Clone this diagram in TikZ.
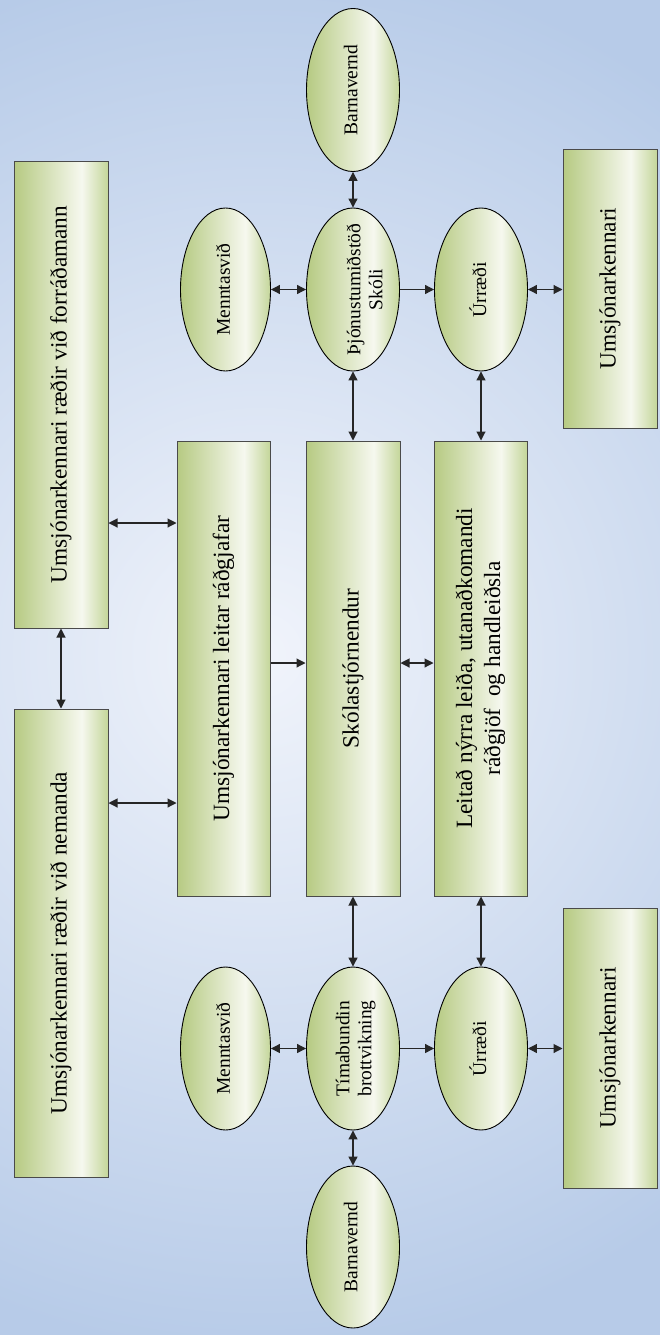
\documentclass[tikz,border=0pt]{standalone}
\usepackage{fontspec}
\setmainfont{Liberation Serif}
\usetikzlibrary{arrows.meta,shapes.geometric,calc}
\definecolor{bgblue}{HTML}{B7CBE8}
\definecolor{bgmid}{HTML}{F1F4FB}
\definecolor{gdark}{HTML}{B6CA82}
\definecolor{gright}{HTML}{C4D69A}
\definecolor{glight}{HTML}{F6F8EF}
\definecolor{edgegray}{HTML}{4A4A4A}
\pgfdeclarehorizontalshading{greenbar}{100bp}{color(0bp)=(gdark); color(25bp)=(gdark); color(61bp)=(glight); color(75bp)=(gright); color(100bp)=(gright)}
\newcommand\vt[1]{\rotatebox{90}{\begin{tabular}{@{}c@{}}#1\end{tabular}}}
\begin{document}
\begin{tikzpicture}[x=1pt,y=-1pt,
  box/.style={rectangle, draw=edgegray, line width=1pt, shade, shading=greenbar, inner sep=0pt, font=\fontsize{23.3}{28}\selectfont},
  ell/.style={ellipse, draw=black, line width=0.9pt, shade, shading=greenbar, inner sep=0pt, minimum width=93pt, minimum height=163pt},
  etxt/.style={inner sep=0pt, font=\fontsize{19.5}{22}\selectfont},
  con/.style={line width=1.1pt, draw=black!85},
  dbl/.style={con, {Triangle[length=9pt,width=9pt]}-{Triangle[length=9pt,width=9pt]}},
  one/.style={con, -{Triangle[length=9pt,width=9pt]}}
]
\useasboundingbox (0,0) rectangle (660,1335);
% background
\fill[bgblue] (0,0) rectangle (660,1335);
\begin{scope}
\clip (0,0) rectangle (660,1335);
\shade[inner color=bgmid, outer color=bgblue] (260,655) circle[radius=700pt];
\end{scope}

% boxes
\node[box, minimum width=94pt, minimum height=467pt] (fo) at (61,394.5) {\vt{Umsjónarkennari ræðir við forráðamann}};
\node[box, minimum width=94pt, minimum height=468pt] (ne) at (61,943) {\vt{Umsjónarkennari ræðir við nemanda}};
\node[box, minimum width=93pt, minimum height=455pt] (le) at (223.5,668.5) {\vt{Umsjónarkennari leitar ráðgjafar}};
\node[box, minimum width=94pt, minimum height=455pt] (sk) at (353,668.5) {\vt{Skólastjórnendur}};
\node[box, minimum width=93pt, minimum height=455pt] (lt) at (480.5,668.5) {\vt{Leitað nýrra leiða, utanaðkomandi\\ráðgjöf~ og handleiðsla}};
\node[box, minimum width=94pt, minimum height=279pt] (u1) at (610,288.5) {\vt{Umsjónarkennari}};
\node[box, minimum width=94pt, minimum height=280pt] (u2) at (610,1048) {\vt{Umsjónarkennari}};

% top ellipses
\node[ell] (b1) at (353,90) {};
\node[etxt] (b1t) at (b1) {\vt{Barnavernd}};
\node[ell, minimum width=90pt] (m1) at (225.5,289.5) {};
\node[etxt] (m1t) at (m1) {\vt{Menntasvið}};
\node[ell] (th) at (353,289.5) {};
\node[etxt] (tht) at ([xshift=14pt]th.center) {\vt{Þjónustumiðstöð\\Skóli}};
\node[ell] (ur1) at (481,289.5) {};
\node[etxt] (ur1t) at (ur1) {\vt{Úrræði}};

% bottom ellipses
\node[ell, minimum width=90pt] (m2) at (225.5,1048.5) {};
\node[etxt] (m2t) at (m2) {\vt{Menntasvið}};
\node[ell] (ti) at (353,1048.5) {};
\node[etxt] (tit) at ([xshift=3pt]ti.center) {\vt{Tímabundin\\brottvikning}};
\node[ell] (ur2) at (481,1048.5) {};
\node[etxt] (ur2t) at (ur2) {\vt{Úrræði}};
\node[ell, minimum height=162pt] (b2) at (353,1247) {};
\node[etxt] (b2t) at (b2) {\vt{Barnavernd}};

% connector levels
\coordinate (yA) at (0,523);
\coordinate (yB) at (0,803);
\coordinate (yC) at (0,663);

% left part
\draw[dbl] (fo.south) -- (ne.north);
\draw[dbl] (fo.east |- yA) -- (le.west |- yA);
\draw[dbl] (ne.east |- yB) -- (le.west |- yB);
\draw[one] (le.east |- yC) -- (sk.west |- yC);
\draw[dbl] (sk.east |- yC) -- (lt.west |- yC);

% top part
\draw[dbl] (b1.south) -- (th.north);
\draw[dbl] (m1.east) -- (th.west);
\draw[one] (th.east) -- (ur1.west);
\draw[dbl] (ur1.east) -- (ur1.east -| u1.west);
\draw[dbl] (th.south) -- (th.south |- sk.north);
\draw[dbl] (ur1.south) -- (ur1.south |- lt.north);

% bottom part
\draw[dbl] (sk.south) -- (sk.south |- ti.north);
\draw[dbl] (ur2.north |- lt.south) -- (ur2.north);
\draw[dbl] (m2.east) -- (ti.west);
\draw[one] (ti.east) -- (ur2.west);
\draw[dbl] (ur2.east) -- (ur2.east -| u2.west);
\draw[dbl] (ti.south) -- (b2.north);
\end{tikzpicture}
\end{document}
